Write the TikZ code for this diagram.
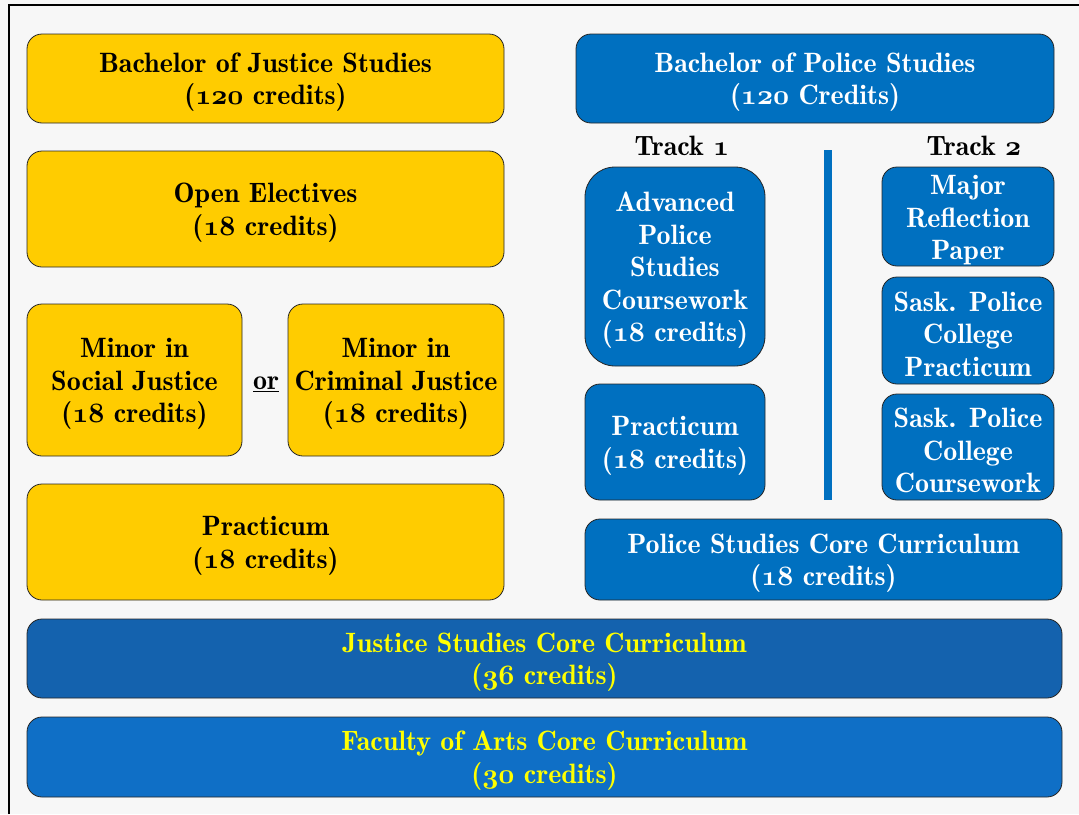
\RequirePackage{fix-cm}
\documentclass[tikz,border=0pt]{standalone}
\usetikzlibrary{positioning}
\definecolor{gold}{HTML}{FFCC00}
\definecolor{police}{HTML}{0070C0}
\definecolor{jcorefill}{HTML}{1462AE}
\definecolor{artsfill}{HTML}{0F6FC6}
\definecolor{brightyellow}{HTML}{FFFF00}
\newcommand{\os}[1]{{\usefont{OML}{cmm}{b}{it}#1}}
\newcommand{\topstrut}{\rule{0pt}{27pt}}
\tikzset{
  base/.style={draw=black!85, line width=0.8pt, rounded corners=15pt, align=center, inner sep=0pt,
    font=\fontsize{28}{32.5}\fontseries{b}\selectfont},
  yellowbox/.style={base, fill=gold, text=black},
  bluebox/.style={base, fill=police, text=white},
  corebox/.style={base, text=brightyellow},
  label/.style={font=\fontsize{28}{30}\fontseries{b}\selectfont, inner sep=0pt},
}
\begin{document}
\begin{tikzpicture}[x=1pt, y=-1pt]
\useasboundingbox[fill=white!97!black] (0,0) rectangle (1079,814);
\draw[line width=2pt] (9,814) -- (9,5) -- (1079,5);
% justice studies side
\node[yellowbox, minimum width=477, minimum height=89] (bjs) at (265.5,78.5) {\topstrut Bachelor of Justice Studies\\(\os{120} credits)};
\node[yellowbox, minimum width=477, minimum height=116] (open) at (265.5,209) {\topstrut Open Electives\\(\os{18} credits)};
\node[yellowbox, minimum width=215, minimum height=152] (minsoc) at (134.5,380) {\topstrut Minor in\\Social Justice\\(\os{18} credits)};
\node[label] (or) at (266,384) {\underline{or}};
\node[yellowbox, minimum width=216, minimum height=152] (mincrim) at (396,380) {\topstrut Minor in\\Criminal Justice\\(\os{18} credits)};
\node[yellowbox, minimum width=477, minimum height=116] (jprac) at (265.5,542) {\topstrut Practicum\\(\os{18} credits)};
% police studies side
\node[bluebox, minimum width=478, minimum height=89] (bps) at (815,78.5) {\topstrut Bachelor of Police Studies\\(\os{120} Credits)};
\node[label] (track1) at (682,146) {Track \os{1}};
\node[label] (track2) at (974,146) {Track \os{2}};
\node[bluebox, rounded corners=30pt, minimum width=180, minimum height=199] (adv) at (675,266.5) {\topstrut Advanced\\Police\\Studies\\Coursework\\(\os{18} credits)};
\node[bluebox, minimum width=180, minimum height=116] (pprac) at (675,442) {\topstrut Practicum\\(\os{18} credits)};
\fill[police] (824,150) rectangle (832,500);
\node[bluebox, minimum width=172, minimum height=99] (major) at (968,216.5) {\topstrut Major\\Reflection\\Paper};
\node[bluebox, minimum width=172, minimum height=107] (saskprac) at (968,330.5) {\topstrut Sask. Police\\College\\Practicum};
\node[bluebox, minimum width=172, minimum height=106] (saskcourse) at (968,447) {\topstrut Sask. Police\\College\\Coursework};
\node[bluebox, minimum width=477, minimum height=81] (pcore) at (823.5,559.5) {\topstrut Police Studies Core Curriculum\\(\os{18} credits)};
% shared core
\node[corebox, fill=jcorefill, minimum width=1035, minimum height=79] (jcore) at (544.5,658.5) {\topstrut Justice Studies Core Curriculum\\(\os{36} credits)};
\node[corebox, fill=artsfill, minimum width=1035, minimum height=80] (arts) at (544.5,757) {\topstrut Faculty of Arts Core Curriculum\\(\os{30} credits)};
\end{tikzpicture}
\end{document}
